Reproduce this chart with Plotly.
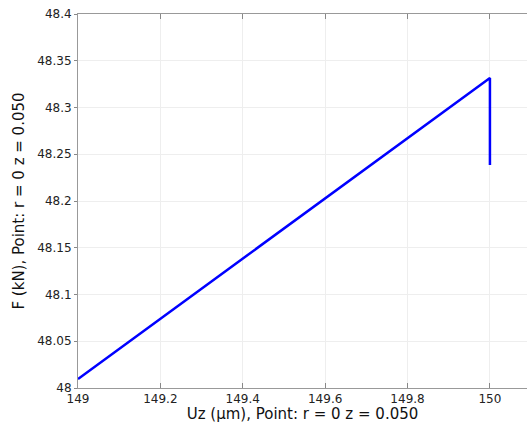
import plotly.graph_objects as go

uz = [149.0, 150.0, 150.0]
force = [48.0096, 48.3316, 48.2385]

x_ticks = [149, 149.2, 149.4, 149.6, 149.8, 150]
x_labels = ["149", "149.2", "149.4", "149.6", "149.8", "150"]
y_ticks = [48, 48.05, 48.1, 48.15, 48.2, 48.25, 48.3, 48.35, 48.4]
y_labels = ["48", "48.05", "48.1", "48.15", "48.2", "48.25", "48.3", "48.35", "48.4"]

fig = go.Figure()
fig.add_trace(go.Scatter(x=uz, y=force, mode="lines",
                         line=dict(color="#0000ff", width=2.5),
                         showlegend=False))

font_family = "DejaVu Sans"
fig.update_layout(
    width=527, height=423,
    margin=dict(l=78, r=0, t=14, b=35),
    paper_bgcolor="white", plot_bgcolor="white",
    font=dict(family=font_family, color="#222222"),
    xaxis=dict(
        range=[149, 150.09], tickvals=x_ticks, ticktext=x_labels,
        ticks="inside", ticklen=5, tickcolor="#888888", tickwidth=1,
        showline=True, linecolor="#999999", linewidth=1, mirror="ticks",
        showgrid=True, gridcolor="#eeeeee", gridwidth=1, zeroline=False,
        tickfont=dict(size=12, family=font_family),
        title=dict(text="Uz (µm), Point: r = 0 z = 0.050", standoff=0,
                   font=dict(size=15, family=font_family, color="#111111")),
    ),
    yaxis=dict(
        range=[48, 48.4], tickvals=y_ticks, ticktext=y_labels,
        ticks="outside", ticklen=3, tickcolor="#888888", tickwidth=1,
        showline=True, linecolor="#999999", linewidth=1, mirror=False,
        showgrid=True, gridcolor="#eeeeee", gridwidth=1, zeroline=False,
        tickfont=dict(size=12, family=font_family),
        title=dict(text="F (kN), Point: r = 0 z = 0.050", standoff=8,
                   font=dict(size=15, family=font_family, color="#111111")),
    ),
)

fig.write_html(
    "out.html",
    config={"displayModeBar": False},
    post_script="document.body.style.margin='0';document.body.style.overflow='hidden';",
)
